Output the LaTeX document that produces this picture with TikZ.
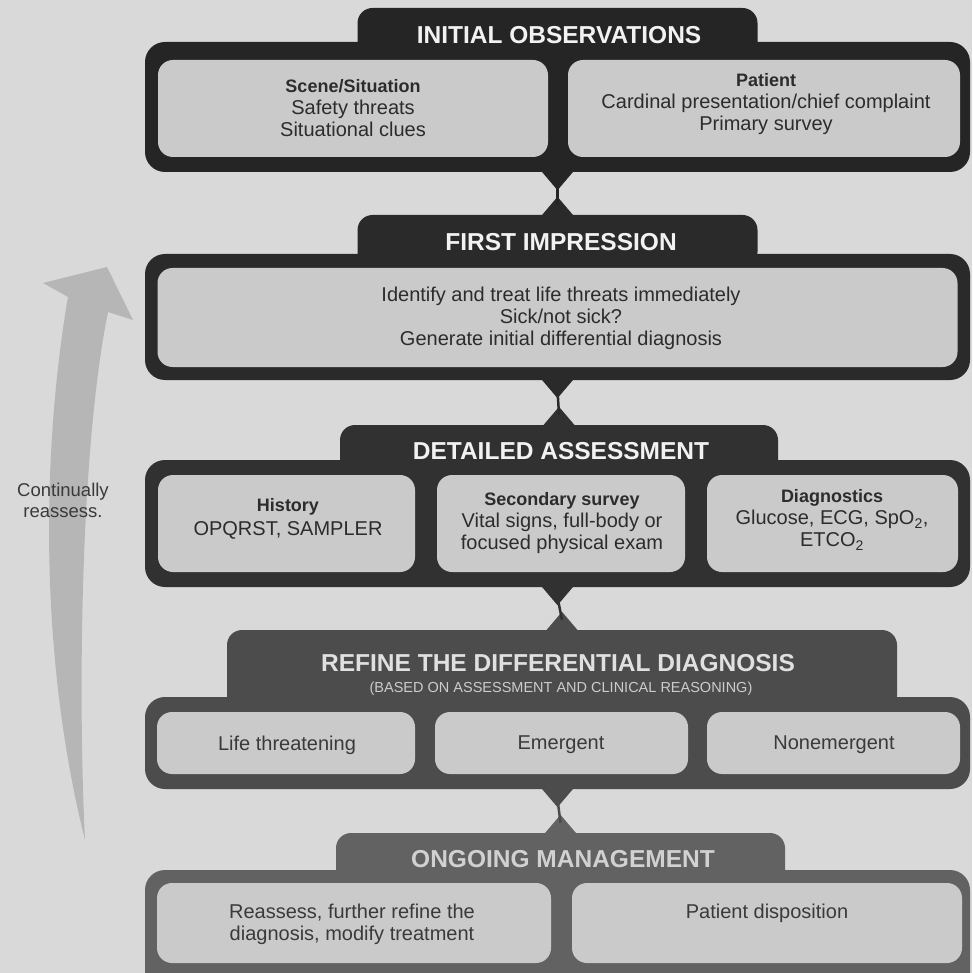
\documentclass[tikz,border=0pt]{standalone}
\usepackage{fontspec}
\setmainfont{Liberation Sans}
\usetikzlibrary{calc}
\definecolor{bgc}{HTML}{D9D9D9}
\definecolor{inc}{HTML}{CACACA}
\definecolor{ca}{HTML}{252525}
\definecolor{cb}{HTML}{2A2A2A}
\definecolor{cc}{HTML}{313131}
\definecolor{cd}{HTML}{4C4C4C}
\definecolor{ce}{HTML}{626262}
\definecolor{arrc}{HTML}{B6B6B6}
\definecolor{txc}{HTML}{2C2C2C}
\definecolor{txd}{HTML}{3A3A3A}
\tikzset{
  outerbox/.style={rectangle, rounded corners=20pt, minimum width=825pt, inner sep=0pt},
  tabbox/.style={rectangle, rounded corners=15pt, inner sep=0pt},
  inbox/.style={rectangle, rounded corners=15pt, fill=inc, inner sep=0pt},
  ttl/.style={font=\fontsize{24.5}{26}\selectfont\bfseries, text=white!95!black, inner sep=0pt},
  body/.style={font=\fontsize{20}{22}\selectfont, text=txc, align=center, inner sep=0pt},
  conn/.style={line width=2.5pt},
}
\newcommand\hd[1]{{\fontsize{18}{20}\selectfont\bfseries #1}}
\begin{document}
\begin{tikzpicture}[x=1pt,y=-1pt]
\useasboundingbox (0,0) rectangle (972,973);
\clip (0,0) rectangle (972,973);
\fill[bgc] (0,0) rectangle (972,973);

% ---------- left arrow ----------
\fill[arrc] (68,297) .. controls (45,430) and (35,640) .. (85,840)
  .. controls (78,700) and (80,450) .. (108,312)
  -- (133,320) -- (107,267) -- (43,283) -- cycle;
\node[font=\fontsize{18.5}{21}\selectfont, text=txd, align=center, inner sep=0pt] (reass) at (63,500) {Continually\\reassess.};

% ---------- Section 1 ----------
\node[tabbox, fill=ca, minimum width=400pt, minimum height=52pt] (tab1) at (557.5,34) {};
\node[outerbox, fill=ca, minimum height=130pt] (box1) at (557.5,107) {};
\node[inbox, minimum width=390pt, minimum height=97pt] (b1l) at (353,108.5) {};
\node[inbox, minimum width=392pt, minimum height=97pt] (b1r) at (764,108.5) {};
\node[ttl] (t1) at (559,35) {INITIAL OBSERVATIONS};
\node[body] (x1l) at (353,108) {\hd{Scene/Situation}\\Safety threats\\Situational clues};
\node[body] (x1r) at (766,104.5) {\hd{Patient}\\Cardinal presentation/chief complaint\\Primary survey};

% ---------- Section 2 ----------
\node[tabbox, fill=cb, minimum width=400pt, minimum height=52pt] (tab2) at (557.5,241) {};
\node[outerbox, fill=cb, minimum height=126pt] (box2) at (557.5,317) {};
\node[inbox, minimum width=800pt, minimum height=99pt] (b2) at (557.5,317.5) {};
\node[ttl] (t2) at (561,242) {FIRST IMPRESSION};
\node[body] (x2) at (561,318.5) {Identify and treat life threats immediately\\Sick/not sick?\\Generate initial differential diagnosis};

% ---------- Section 3 ----------
\node[tabbox, fill=cc, minimum width=438pt, minimum height=50pt] (tab3) at (559,450) {};
\node[outerbox, fill=cc, minimum height=127pt] (box3) at (557.5,523.5) {};
\node[inbox, minimum width=257pt, minimum height=97pt] (b3l) at (286.5,523.5) {};
\node[inbox, minimum width=248pt, minimum height=97pt] (b3m) at (561,523.5) {};
\node[inbox, minimum width=251pt, minimum height=97pt] (b3r) at (832.5,523.5) {};
\node[ttl] (t3) at (561,451) {DETAILED ASSESSMENT};
\node[body] (x3l) at (288,519) {\hd{History}\\[2pt]OPQRST, SAMPLER};
\node[body] (x3m) at (562,523) {\hd{Secondary survey}\\Vital signs, full-body or\\focused physical exam};
\node[body] (x3r) at (832,520) {\hd{Diagnostics}\\Glucose, ECG, SpO\textsubscript{2},\\ETCO\textsubscript{2}};

% ---------- Section 4 ----------
\node[tabbox, fill=cd, minimum width=670pt, minimum height=80pt] (tab4) at (562,670) {};
\node[outerbox, fill=cd, minimum height=92pt] (box4) at (557.5,743) {};
\node[inbox, minimum width=258pt, minimum height=62pt] (b4l) at (286,743) {};
\node[inbox, minimum width=253pt, minimum height=62pt] (b4m) at (561.5,743) {};
\node[inbox, minimum width=253pt, minimum height=62pt] (b4r) at (833.5,743) {};
\node[ttl, text=white!88!black] (t4) at (558,663) {REFINE THE DIFFERENTIAL DIAGNOSIS};
\node[font=\fontsize{14.5}{16}\selectfont, text=white!80!black, inner sep=0pt] (t4s) at (561,689) {(BASED ON ASSESSMENT AND CLINICAL REASONING)};
\node[body, text=txd] (x4l) at (287,745) {Life threatening};
\node[body, text=txd] (x4m) at (561,745) {Emergent};
\node[body, text=txd] (x4r) at (834,745) {Nonemergent};

% ---------- Section 5 ----------
\node[tabbox, fill=ce, minimum width=449pt, minimum height=60pt] (tab5) at (560.5,863) {};
\node[outerbox, fill=ce, minimum height=130pt] (box5) at (557.5,935) {};
\node[inbox, minimum width=394pt, minimum height=80pt] (b5l) at (354,923) {};
\node[inbox, minimum width=390pt, minimum height=80pt] (b5r) at (767,923) {};
\node[ttl, text=white!82!black] (t5) at (563,859) {ONGOING MANAGEMENT};
\node[body, text=txd] (x5l) at (352,924) {Reassess, further refine the\\diagnosis, modify treatment};
\node[body, text=txd] (x5r) at (767,913) {Patient disposition};

% ---------- connectors ----------
\foreach \a/\b/\ca/\cb in {box1/tab2/ca/cb, box2/tab3/cb/cc, box3/tab4/cc/cd, box4/tab5/cd/ce}{
  \fill[\ca] ($(\a.south)+(-17,-2)$) -- ($(\a.south)+(17,-2)$) -- ($(\a.south)+(0,18)$) -- cycle;
  \fill[\cb] ($(\b.north)+(-17,2)$) -- ($(\b.north)+(17,2)$) -- ($(\b.north)+(0,-18)$) -- cycle;
  \draw[\ca, conn] ($(\a.south)+(0,10)$) -- ($(\b.north)+(0,-10)$);
}
\end{tikzpicture}
\end{document}
